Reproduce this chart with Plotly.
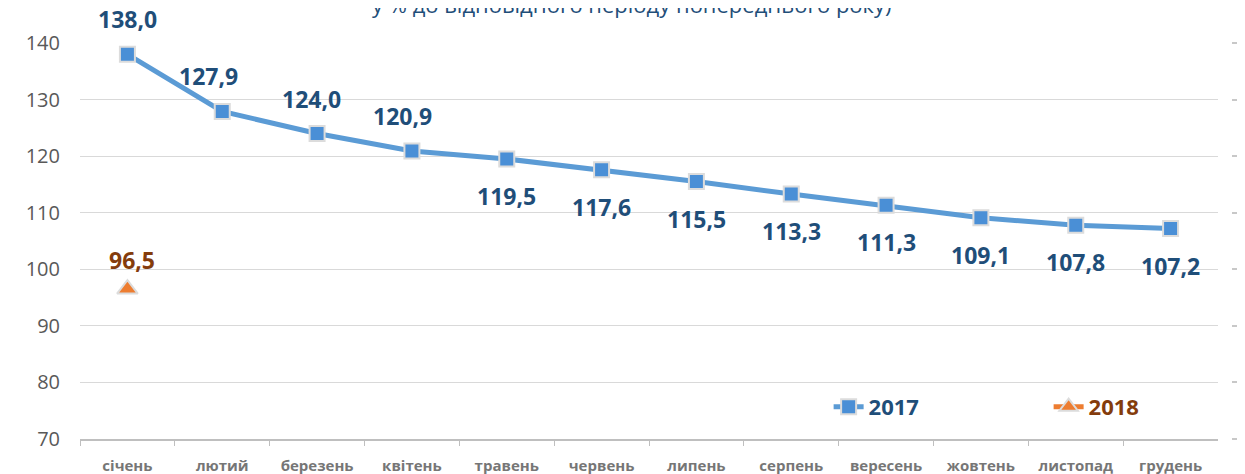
import plotly.graph_objects as go

months = ["січень", "лютий", "березень", "квітень", "травень", "червень",
          "липень", "серпень", "вересень", "жовтень", "листопад", "грудень"]
values_2017 = [138.0, 127.9, 124.0, 120.9, 119.5, 117.6, 115.5, 113.3, 111.3, 109.1, 107.8, 107.2]
values_2018 = [96.5, None, None, None, None, None, None, None, None, None, None, None]
y_ticks = [70, 80, 90, 100, 110, 120, 130, 140]

# label placement style (above / below the point)
side_2017 = [1, 1, 1, 1, -1, -1, -1, -1, -1, -1, -1, -1]
xshift_2017 = [0, -14, -6, -9, 0, 0, 0, 0, 0, 0, 0, 0]

BLUE = "#5B9BD5"
DARKBLUE = "#1F4E79"
ORANGE = "#ED7D31"
BROWN = "#843C0C"
FONT = "Open Sans"

fig = go.Figure()
fig.add_trace(go.Scatter(
    x=months, y=values_2017, mode="lines+markers",
    name="<b><span style='color:%s'>2017</span></b>" % DARKBLUE,
    line=dict(color=BLUE, width=5),
    marker=dict(symbol="square", size=15, color="#4A8FD6",
                line=dict(color="#DCDCDC", width=2)),
    hoverinfo="x+y",
))
fig.add_trace(go.Scatter(
    x=months, y=values_2018, mode="lines+markers",
    name="<b><span style='color:%s'>2018</span></b>" % BROWN,
    line=dict(color=ORANGE, width=5),
    marker=dict(symbol="triangle-up", size=18, color=ORANGE,
                line=dict(color="#DCDCDC", width=2)),
    hoverinfo="x+y",
))

def fmt(v):
    return ("%.1f" % v).replace(".", ",")

annotations = []
for m, v, s, xs in zip(months, values_2017, side_2017, xshift_2017):
    annotations.append(dict(
        x=m, y=v, xref="x", yref="y", text="<b>%s</b>" % fmt(v),
        showarrow=False, yshift=(35 if s > 0 else 37) * s, xshift=xs,
        font=dict(family=FONT, size=23, color=DARKBLUE)))
for m, v in zip(months, values_2018):
    if v is not None:
        annotations.append(dict(
            x=m, y=v, xref="x", yref="y", text="<b>%s</b>" % fmt(v),
            showarrow=False, yshift=29, xshift=5,
            font=dict(family=FONT, size=23, color=BROWN)))

annotations.append(dict(
    x=0.4738, y=1, xref="paper", yref="paper", xanchor="center", yanchor="middle",
    yshift=39, showarrow=False,
    text="у % до відповідного періоду попереднього року)",
    font=dict(family=FONT, size=22, color=DARKBLUE)))

fig.update_layout(
    width=1245, height=474,
    margin=dict(l=72, r=10, t=35, b=43, autoexpand=False),
    plot_bgcolor="white", paper_bgcolor="white",
    font=dict(family=FONT),
    annotations=annotations,
    xaxis=dict(
        domain=[0, 0.9785], automargin=False,
        type="category", categoryorder="array", categoryarray=months,
        showgrid=False, showline=True, linecolor="#BFBFBF", linewidth=1.5,
        ticks="outside", tickson="boundaries", ticklen=5, tickcolor="#BFBFBF",
        tickfont=dict(family=FONT, size=15, color="#767676", weight="bold"),
        ticklabelstandoff=12,
        range=[-0.5, 11.5], fixedrange=True,
    ),
    yaxis=dict(
        range=[70, 140], tickvals=y_ticks, automargin=False,
        showgrid=True, gridcolor="#D9D9D9", gridwidth=1,
        zeroline=False, showline=False,
        tickfont=dict(family=FONT, size=20, color="#595959"),
        ticklabelstandoff=19,
    ),
    yaxis2=dict(
        range=[70, 140], tickvals=y_ticks, overlaying="y", automargin=False,
        anchor="free", position=0.9897, side="right",
        showgrid=False, zeroline=False, showline=False, showticklabels=True,
        tickfont=dict(size=1, color="rgba(0,0,0,0)"),
        ticks="outside", ticklen=6, tickcolor="#C8C8C8", tickwidth=1.5,
    ),
    legend=dict(
        orientation="h", x=0.6437, xanchor="left", y=0.081, yanchor="middle",
        bgcolor="rgba(0,0,0,0)", entrywidth=175, entrywidthmode="pixels",
        font=dict(family=FONT, size=22),
    ),
    showlegend=True,
)
# invisible trace bound to the secondary axis so its ticks are drawn
fig.add_trace(go.Scatter(x=months, y=values_2017, yaxis="y2", showlegend=False,
                         mode="markers", marker=dict(opacity=0),
                         hoverinfo="skip"))

fig.write_html("out.html")
